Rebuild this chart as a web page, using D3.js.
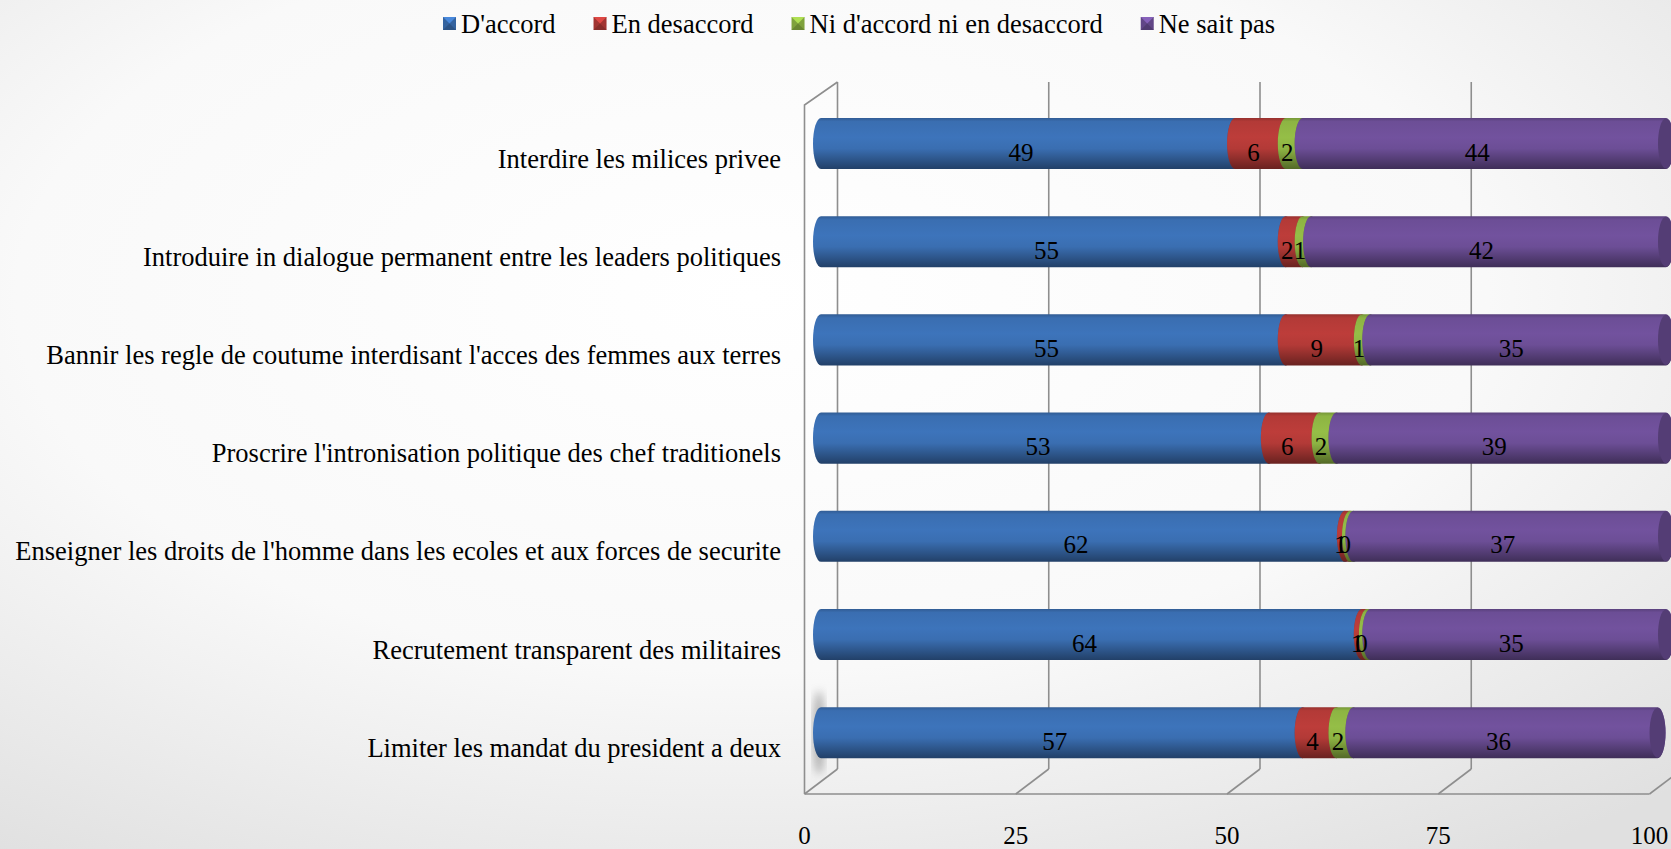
<!DOCTYPE html>
<html>
<head>
<meta charset="utf-8">
<script src="https://cdn.jsdelivr.net/npm/d3@7"></script>
<style>
  body { margin: 0; background: #fff; }
  svg text { font-family: "Times New Roman", "Liberation Serif", Tinos, Times, "DejaVu Serif", serif; fill: #000; }
</style>
</head>
<body>
<script>
// categories, top to bottom
var categories = [
  'Interdire les milices privee',
  'Introduire in dialogue permanent entre les leaders politiques',
  "Bannir les regle de coutume interdisant l'acces des femmes aux terres",
  "Proscrire l'intronisation politique des chef traditionels",
  "Enseigner les droits de l'homme dans les ecoles et aux forces de securite",
  'Recrutement transparent des militaires',
  'Limiter les mandat du president a deux'
];

var seriesNames = ["D'accord", 'En desaccord', "Ni d'accord ni en desaccord", 'Ne sait pas'];
var seriesColors = ['#3a6eb1', '#b33a37', '#8db443', '#6c4e96'];

var accord    = [49, 55, 55, 53, 62, 64, 57];
var desaccord = [6, 2, 9, 6, 0.6, 0.6, 4];
var neutre    = [2, 1, 1, 2, 0.4, 0.4, 2];
var nsp       = [44, 42, 35, 39, 37, 35, 36];

var tickValues = [0, 25, 50, 75, 100];

var FONT = '"Times New Roman", "Liberation Serif", Tinos, Times, "DejaVu Serif", serif';

var W = 1671, H = 849;
var depth = 16.5;       // half the 3d depth shift in x
var rx = 8;             // cylinder end cap radius

var svg = d3.select('body').append('svg')
  .attr('width', W)
  .attr('height', H)
  .attr('font-family', FONT);

var defs = svg.append('defs');

// background
var bg = defs.append('radialGradient').attr('id', 'bg')
  .attr('cx', '45%').attr('cy', '35%').attr('r', '80%');
bg.append('stop').attr('offset', '0%').attr('stop-color', '#ffffff');
bg.append('stop').attr('offset', '55%').attr('stop-color', '#f9f9f9');
bg.append('stop').attr('offset', '100%').attr('stop-color', '#e0e0e0');
svg.append('rect').attr('width', W).attr('height', H).attr('fill', 'url(#bg)');

// cylinder shading per series
seriesColors.forEach(function (c, i) {
  var base = d3.color(c);
  var g = defs.append('linearGradient').attr('id', 'cyl' + i)
    .attr('x1', 0).attr('y1', 0).attr('x2', 0).attr('y2', 1);
  g.append('stop').attr('offset', '0%').attr('stop-color', base.darker(0.5));
  g.append('stop').attr('offset', '7%').attr('stop-color', base);
  g.append('stop').attr('offset', '38%').attr('stop-color', base.brighter(0.15));
  g.append('stop').attr('offset', '60%').attr('stop-color', base);
  g.append('stop').attr('offset', '100%').attr('stop-color', base.darker(1.5));
});

defs.append('filter').attr('id', 'blur')
  .append('feGaussianBlur').attr('stdDeviation', 4);

// scales
var x = d3.scaleLinear().domain([0, 100]).range([821, 1666]);

var y = d3.scaleBand()
  .domain(categories)
  .range([94.4, 781.8])
  .paddingInner(0.48)
  .paddingOuter(0.24);

// 3d frame: back gridlines, floor, left wall
var frame = svg.append('g')
  .attr('stroke', '#8e8e8e')
  .attr('stroke-width', 1.6)
  .attr('fill', 'none');

var backTop = 82, backBottom = 769, frontBottom = 794, frontTop = 105;

frame.selectAll('.grid')
  .data(tickValues)
  .enter()
  .append('line')
    .attr('class', 'grid')
    .attr('x1', function (d) { return x(d) + depth; })
    .attr('x2', function (d) { return x(d) + depth; })
    .attr('y1', backTop)
    .attr('y2', backBottom);

frame.selectAll('.floor')
  .data(tickValues)
  .enter()
  .append('line')
    .attr('class', 'floor')
    .attr('x1', function (d) { return x(d) - depth; })
    .attr('x2', function (d) { return x(d) + depth; })
    .attr('y1', frontBottom)
    .attr('y2', backBottom);

frame.append('line')
  .attr('x1', x(0) - depth).attr('x2', x(100) - depth)
  .attr('y1', frontBottom).attr('y2', frontBottom);

frame.append('path')
  .attr('d', 'M' + (x(0) - depth) + ',' + frontBottom +
    'L' + (x(0) - depth) + ',' + frontTop +
    'L' + (x(0) + depth) + ',' + backTop);

// little shadow at the foot of the last bar
svg.append('ellipse')
  .attr('cx', x(0) - 2)
  .attr('cy', y(categories[6]) + y.bandwidth() / 2)
  .attr('rx', 6)
  .attr('ry', 42)
  .attr('fill', '#777')
  .attr('opacity', 0.55)
  .attr('filter', 'url(#blur)');

// stack the series
var rows = categories.map(function (c, i) {
  return { cat: c, vals: [accord[i], desaccord[i], neutre[i], nsp[i]] };
});

function segments(row) {
  var acc = 0;
  return row.vals.map(function (v, k) {
    var s = { cat: row.cat, k: k, v: v, x0: acc, x1: acc + v };
    acc += v;
    return s;
  });
}

function cylPath(x0, x1, top, bottom) {
  var ry = (bottom - top) / 2;
  return 'M' + x0 + ',' + top +
    'L' + x1 + ',' + top +
    'A' + rx + ',' + ry + ' 0 0 1 ' + x1 + ',' + bottom +
    'L' + x0 + ',' + bottom +
    'A' + rx + ',' + ry + ' 0 0 1 ' + x0 + ',' + top + 'Z';
}

var barG = svg.selectAll('.row')
  .data(rows)
  .enter()
  .append('g')
  .attr('class', 'row');

var seg = barG.selectAll('.seg')
  .data(function (d) { return segments(d); })
  .enter()
  .append('g')
  .attr('class', 'seg');

seg.append('path')
  .attr('fill', function (d) { return 'url(#cyl' + d.k + ')'; })
  .attr('d', function (d) {
    var top = y(d.cat), bottom = top + y.bandwidth();
    return cylPath(x(d.x0), x(Math.min(d.x1, 100)), top, bottom);
  });

// end face of each cylinder
seg.append('ellipse')
  .attr('cx', function (d) { return x(Math.min(d.x1, 100)); })
  .attr('cy', function (d) { return y(d.cat) + y.bandwidth() / 2; })
  .attr('rx', rx)
  .attr('ry', y.bandwidth() / 2 - 0.5)
  .attr('fill', function (d) { return d3.color(seriesColors[d.k]).darker(0.7); });

// value labels (the tiny 1 / 0 pairs overlap, as in the original)
var labelsG = svg.append('g');
rows.forEach(function (row) {
  labelsG.selectAll(null)
    .data(segments(row))
    .enter()
    .append('text')
      .attr('x', function (d) { return (x(d.x0) + x(Math.min(d.x1, 100))) / 2 - 7; })
      .attr('y', function (d) { return y(d.cat) + y.bandwidth() / 2 + 17; })
      .attr('text-anchor', 'middle')
      .attr('font-size', 25)
      .text(function (d) { return Math.round(d.v); });
});

// category labels
svg.selectAll('.cat')
  .data(categories)
  .enter()
  .append('text')
    .attr('class', 'cat')
    .attr('x', 781)
    .attr('y', function (d) { return y(d) + y.bandwidth() / 2 + 24; })
    .attr('text-anchor', 'end')
    .attr('font-size', 26.5)
    .text(function (d) { return d; });

// x tick labels on the front edge
svg.selectAll('.tick')
  .data(tickValues)
  .enter()
  .append('text')
    .attr('class', 'tick')
    .attr('x', function (d) { return x(d) - depth; })
    .attr('y', 844)
    .attr('text-anchor', 'middle')
    .attr('font-size', 25)
    .text(function (d) { return d; });

// legend
var legend = svg.append('g');
var lx = 443;
seriesNames.forEach(function (name, i) {
  var c = d3.color(seriesColors[i]);
  var item = legend.append('g').attr('transform', 'translate(' + lx + ',17)');
  item.append('rect')
    .attr('width', 13).attr('height', 13)
    .attr('fill', c.darker(0.3));
  // bevelled look
  item.append('path')
    .attr('d', 'M0,0L13,0L6.5,6.5Z')
    .attr('fill', c.brighter(0.6));
  item.append('path')
    .attr('d', 'M0,13L13,13L6.5,6.5Z')
    .attr('fill', c.darker(0.8));
  var t = item.append('text')
    .attr('x', 18)
    .attr('y', 16)
    .attr('font-size', 26.5)
    .text(name);
  lx += 18 + t.node().getComputedTextLength() + 38;
});
</script>
</body>
</html>
